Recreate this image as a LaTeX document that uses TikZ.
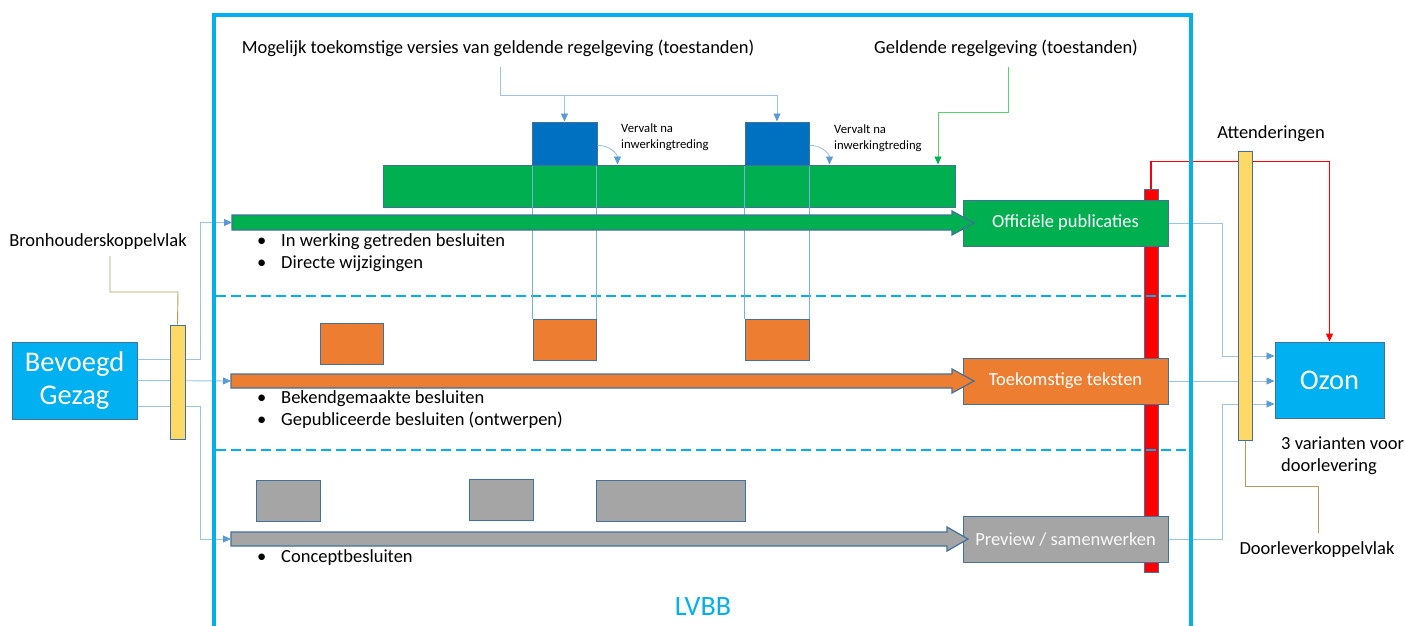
\documentclass[tikz,border=0pt]{standalone}
\usepackage{fontspec}
\setmainfont{Carlito}
\usetikzlibrary{arrows.meta,calc}
\definecolor{lvbb}{HTML}{00B0F0}
\definecolor{greenB}{HTML}{00B050}
\definecolor{orangeB}{HTML}{ED7D31}
\definecolor{grayB}{HTML}{A5A5A5}
\definecolor{blueB}{HTML}{0070C0}
\definecolor{yellowB}{HTML}{FFD966}
\definecolor{edge}{HTML}{41719C}
\definecolor{lineblue}{HTML}{9DC3E6}
\definecolor{tipblue}{HTML}{5B9BD5}
\definecolor{tanline}{HTML}{B8985A}
\definecolor{geldgreen}{HTML}{5BD16E}
\begin{document}
\begin{tikzpicture}[x=1pt,y=-1pt,
  box/.style={draw=edge,line width=1pt,inner sep=0pt},
  conn/.style={draw=lineblue,line width=0.9pt,-{Triangle[length=8pt,width=7pt,color=tipblue]}},
  koppel/.style={draw=tanline,line width=0.9pt},
  flow/.style={draw=edge,line width=1.2pt},
  lbl/.style={font=\fontsize{18.5}{22}\selectfont,inner sep=0pt},
  boxtxt/.style={font=\fontsize{18.5}{22}\selectfont,text=white},
  small/.style={font=\fontsize{12.7}{16}\selectfont,align=left,inner sep=0pt}]
\useasboundingbox (0,0) rectangle (1405,626);
\newcommand{\bul}{\makebox[24pt][l]{\textbullet}}

% labels boven
\node[lbl] (mog) at (498,48) {Mogelijk toekomstige versies van geldende regelgeving (toestanden)};
\node[lbl] (geld) at (1006,48) {Geldende regelgeving (toestanden)};

% attenderingsbalk, achter de rest
\node[box,fill=red,minimum width=14pt,minimum height=383pt] (rood) at (1151,380.5) {};

% scheidingslijnen
\draw[lvbb,line width=2.5pt,dash pattern=on 10pt off 5pt] (216,296) -- (1189,296);
\draw[lvbb,line width=2.5pt,dash pattern=on 10pt off 5pt] (216,450) -- (1189,450);

% blokken
\node[box,fill=greenB,minimum width=572pt,minimum height=42pt] (geldend) at (669,186) {};
\node[box,fill=blueB,minimum width=65pt,minimum height=43pt] (v1) at (564.5,143.5) {};
\node[box,fill=blueB,minimum width=64pt,minimum height=43pt] (v2) at (777,143.5) {};
\node[box,fill=orangeB,minimum width=63pt,minimum height=41pt] (o1) at (351.5,343.5) {};
\node[box,fill=orangeB,minimum width=63pt,minimum height=41pt] (o2) at (564.5,339.5) {};
\node[box,fill=orangeB,minimum width=64pt,minimum height=41pt] (o3) at (777,339.5) {};
\node[box,fill=grayB,minimum width=64pt,minimum height=41pt] (g1) at (288,500.5) {};
\node[box,fill=grayB,minimum width=64pt,minimum height=41pt] (g2) at (501,499.5) {};
\node[box,fill=grayB,minimum width=149pt,minimum height=41pt] (g3) at (670.5,500.5) {};

% dunne lijnen tussen versies
\draw[tipblue!80,line width=0.7pt] (o2.north west) -- (o2.north west |- v1.south);
\draw[tipblue!80,line width=0.7pt] (o2.north east) -- (o2.north east |- v1.south);
\draw[tipblue!80,line width=0.7pt] (o3.north west) -- (o3.north west |- v2.south);
\draw[tipblue!80,line width=0.7pt] (o3.north east) -- (o3.north east |- v2.south);

% pijlen naar de versies
\coordinate (mk) at (500,95);
\draw[draw=lineblue,line width=0.9pt] ($(mog.south)+(2,10)$) -- (mk);
\draw[conn] (mk) -| (v1.north);
\draw[conn] (v1.north |- mk) -| (v2.north);
\coordinate (gk) at (938,112);
\draw[draw=geldgreen,line width=0.9pt,-{Triangle[length=8pt,width=7pt,color=greenB]}] ($(geld.south)+(2,10)$) |- (gk) -- (gk |- geldend.north);

\node[small,anchor=north west] (vv1) at (621,123) {Vervalt na\\inwerkingtreding};
\node[small,anchor=north west] (vv2) at (834,124) {Vervalt na\\inwerkingtreding};
\draw[conn] ([yshift=-2pt]v1.east) to[out=5,in=90] ($(v1.east |- geldend.north)+(20,0)$);
\draw[conn] ([yshift=-2pt]v2.east) to[out=5,in=90] ($(v2.east |- geldend.north)+(20,0)$);

% uitvoer
\node[box,fill=greenB,minimum width=205pt,minimum height=46pt,boxtxt] (offpub) at (1065.5,223) {Officiële publicaties};
\node[box,fill=orangeB,minimum width=205pt,minimum height=46pt,boxtxt] (toek) at (1065.5,381) {Toekomstige teksten};
\node[box,fill=grayB,minimum width=205pt,minimum height=46pt,boxtxt,text=white!95!gray] (prev) at (1065.5,539) {Preview / samenwerken};

% stromen
\draw[flow,fill=greenB] (232,215) -- (952,215) -- (952,211) -- (974,223) -- (952,235) -- (952,230) -- (232,230) -- cycle;
\draw[flow,fill=orangeB] (231,374) -- (952,374) -- (952,369) -- (974,381) -- (952,393) -- (952,388) -- (231,388) -- cycle;
\draw[flow,fill=grayB] (231,532) -- (947,532) -- (947,527) -- (968,539) -- (947,551) -- (947,546) -- (231,546) -- cycle;
\coordinate (fgreen) at (232,222.5);
\coordinate (forange) at (231,381);
\coordinate (fgray) at (231,539);

\node[lbl,align=left,anchor=west] (bl1) at (257,253) {\bul In werking getreden besluiten\\\bul Directe wijzigingen};
\node[lbl,align=left,anchor=west] (bl2) at (257,410) {\bul Bekendgemaakte besluiten\\\bul Gepubliceerde besluiten (ontwerpen)};
\node[lbl,align=left,anchor=west] (bl3) at (257,558) {\bul Conceptbesluiten};

% attenderingen en doorlevering
\node[box,fill=lvbb,minimum width=109pt,minimum height=76pt,font=\fontsize{28.5}{30}\selectfont,text=white] (ozon) at (1329.5,380) {Ozon};
\coordinate (d1) at (1222,356);
\coordinate (d3) at (1222,404);
\draw[conn] (offpub.east) -| (d1) -- (d1 -| ozon.west);
\draw[conn] (toek.east) -- (toek.east -| ozon.west);
\draw[conn] (prev.east) -| (d3) -- (d3 -| ozon.west);
\coordinate (rk) at (1330,161.5);
\draw[color=red,line width=1.3pt,-{Triangle[length=8pt,width=7pt]}] (rood.north) |- (ozon.north |- rk) -- (ozon.north);
\node[box,fill=yellowB,minimum width=14pt,minimum height=289pt] (doorl) at (1245,295.5) {};
\node[lbl] (att) at (1271,134) {Attenderingen};
\node[lbl,align=left,anchor=north west] (var) at (1281,437) {3 varianten voor\\doorlevering};
\node[lbl] (dkv) at (1317,550) {Doorleverkoppelvlak};
\coordinate (dk) at (1318,486);
\draw[koppel] (doorl.south) |- (dk) -- ($(dk |- dkv.north)+(0,-9)$);

% bevoegd gezag
\node[box,fill=lvbb,minimum width=125pt,minimum height=77pt,align=center,font=\fontsize{28.5}{33}\selectfont,text=white] (bg) at (74.5,380.5) {Bevoegd\\\rule{0pt}{25pt}Gezag};
\draw[conn] ([yshift=21.5pt]bg.east) -| ($(fgreen)+(-32,0)$) -- (fgreen);
\draw[conn] (bg.east) -- (forange);
\draw[conn] ([yshift=-25.5pt]bg.east) -| ($(fgray)+(-31,0)$) -- (fgray);
\node[box,fill=yellowB,minimum width=15pt,minimum height=114pt] (bronk) at (177.5,382) {};
\node[lbl] (bhl) at (98,242) {Bronhouderskoppelvlak};
\coordinate (bk) at (178,292);
\draw[koppel] ($(bhl.south)+(12,6)$) |- (bk) -- (bronk.north);

% LVBB kader
\draw[lvbb,line width=4pt] (214,626) -- (214,15) -- (1191,15) -- (1191,626);
\node[font=\fontsize{28}{30}\selectfont,text=lvbb] (lvbbl) at (703,607) {LVBB};
\end{tikzpicture}
\end{document}
